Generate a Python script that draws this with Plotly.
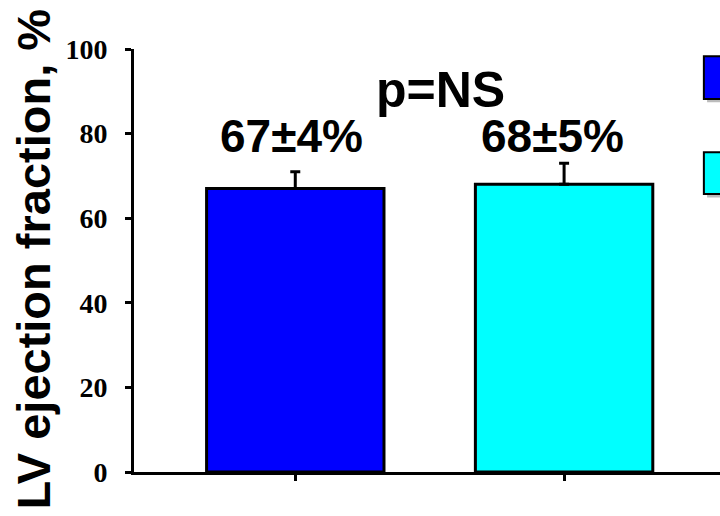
import plotly.graph_objects as go

categories = ["A", "B"]
values = [67, 68]
errors = [4, 5]
bar_colors = ["#0000FF", "#00FFFF"]
value_labels = ["67±4%", "68±5%"]
p_label = "p=NS"
y_title = "LV ejection fraction, %"
y_ticks = [0, 20, 40, 60, 80, 100]

SANS = "Arial, Liberation Sans, sans-serif"
SERIF = "Times New Roman, Liberation Serif, serif"

fig = go.Figure()
fig.add_trace(go.Bar(
    x=[0, 1], y=values,
    width=0.66,
    marker=dict(color=bar_colors, line=dict(color="black", width=3)),
    error_y=dict(type="data", symmetric=False, array=errors, arrayminus=[0, 0],
                 color="black", thickness=3, width=5),
    showlegend=False,
))

# legend swatches (cut off at right edge in the reference)
for y0, y1, col in [(88.2, 98.3, bar_colors[0]), (65.7, 75.6, bar_colors[1])]:
    fig.add_shape(type="rect", xref="x", yref="y", x0=1.532, x1=1.8, y0=y0 - 0.8, y1=y1 - 0.8,
                  fillcolor="#bbbbbb", line=dict(width=0), layer="above")
    fig.add_shape(type="rect", xref="x", yref="y", x0=1.52, x1=1.8, y0=y0, y1=y1,
                  fillcolor=col, line=dict(color="black", width=2), layer="above")

for i, lab in enumerate(value_labels):
    fig.add_annotation(x=[-0.015, 0.955][i], y=79.5, xref="x", yref="y", text=lab,
                       showarrow=False, xanchor="center", yanchor="middle",
                       font=dict(family=SANS, size=46, color="black", weight="bold"))
fig.add_annotation(x=0.539, y=90.2, xref="x", yref="y", text=p_label, showarrow=False,
                   xanchor="center", yanchor="middle",
                   font=dict(family=SANS, size=50, color="black", weight="bold"))
fig.add_annotation(x=-0.172, y=0.503, xref="paper", yref="paper", text=y_title,
                   textangle=-90, showarrow=False, xanchor="center", yanchor="middle",
                   font=dict(family=SANS, size=47, color="black", weight="bold"))

fig.update_layout(
    width=720, height=516,
    margin=dict(l=134, r=0, t=49, b=44),
    plot_bgcolor="white", paper_bgcolor="white",
    xaxis=dict(range=[-0.6, 1.58], tickvals=[0, 1], ticktext=["", ""],
               showline=True, linecolor="black", linewidth=3,
               ticks="outside", ticklen=6, tickwidth=2.5, tickcolor="black",
               showgrid=False, zeroline=False, fixedrange=True),
    yaxis=dict(range=[0, 100], tickvals=y_ticks,
               showline=True, linecolor="black", linewidth=3,
               ticks="outside", ticklen=6, tickwidth=3, tickcolor="black",
               tickfont=dict(family=SERIF, size=28, color="black", weight="bold"),
               ticklabelstandoff=12,
               showgrid=False, zeroline=False),
)

fig.write_html("out.html")
